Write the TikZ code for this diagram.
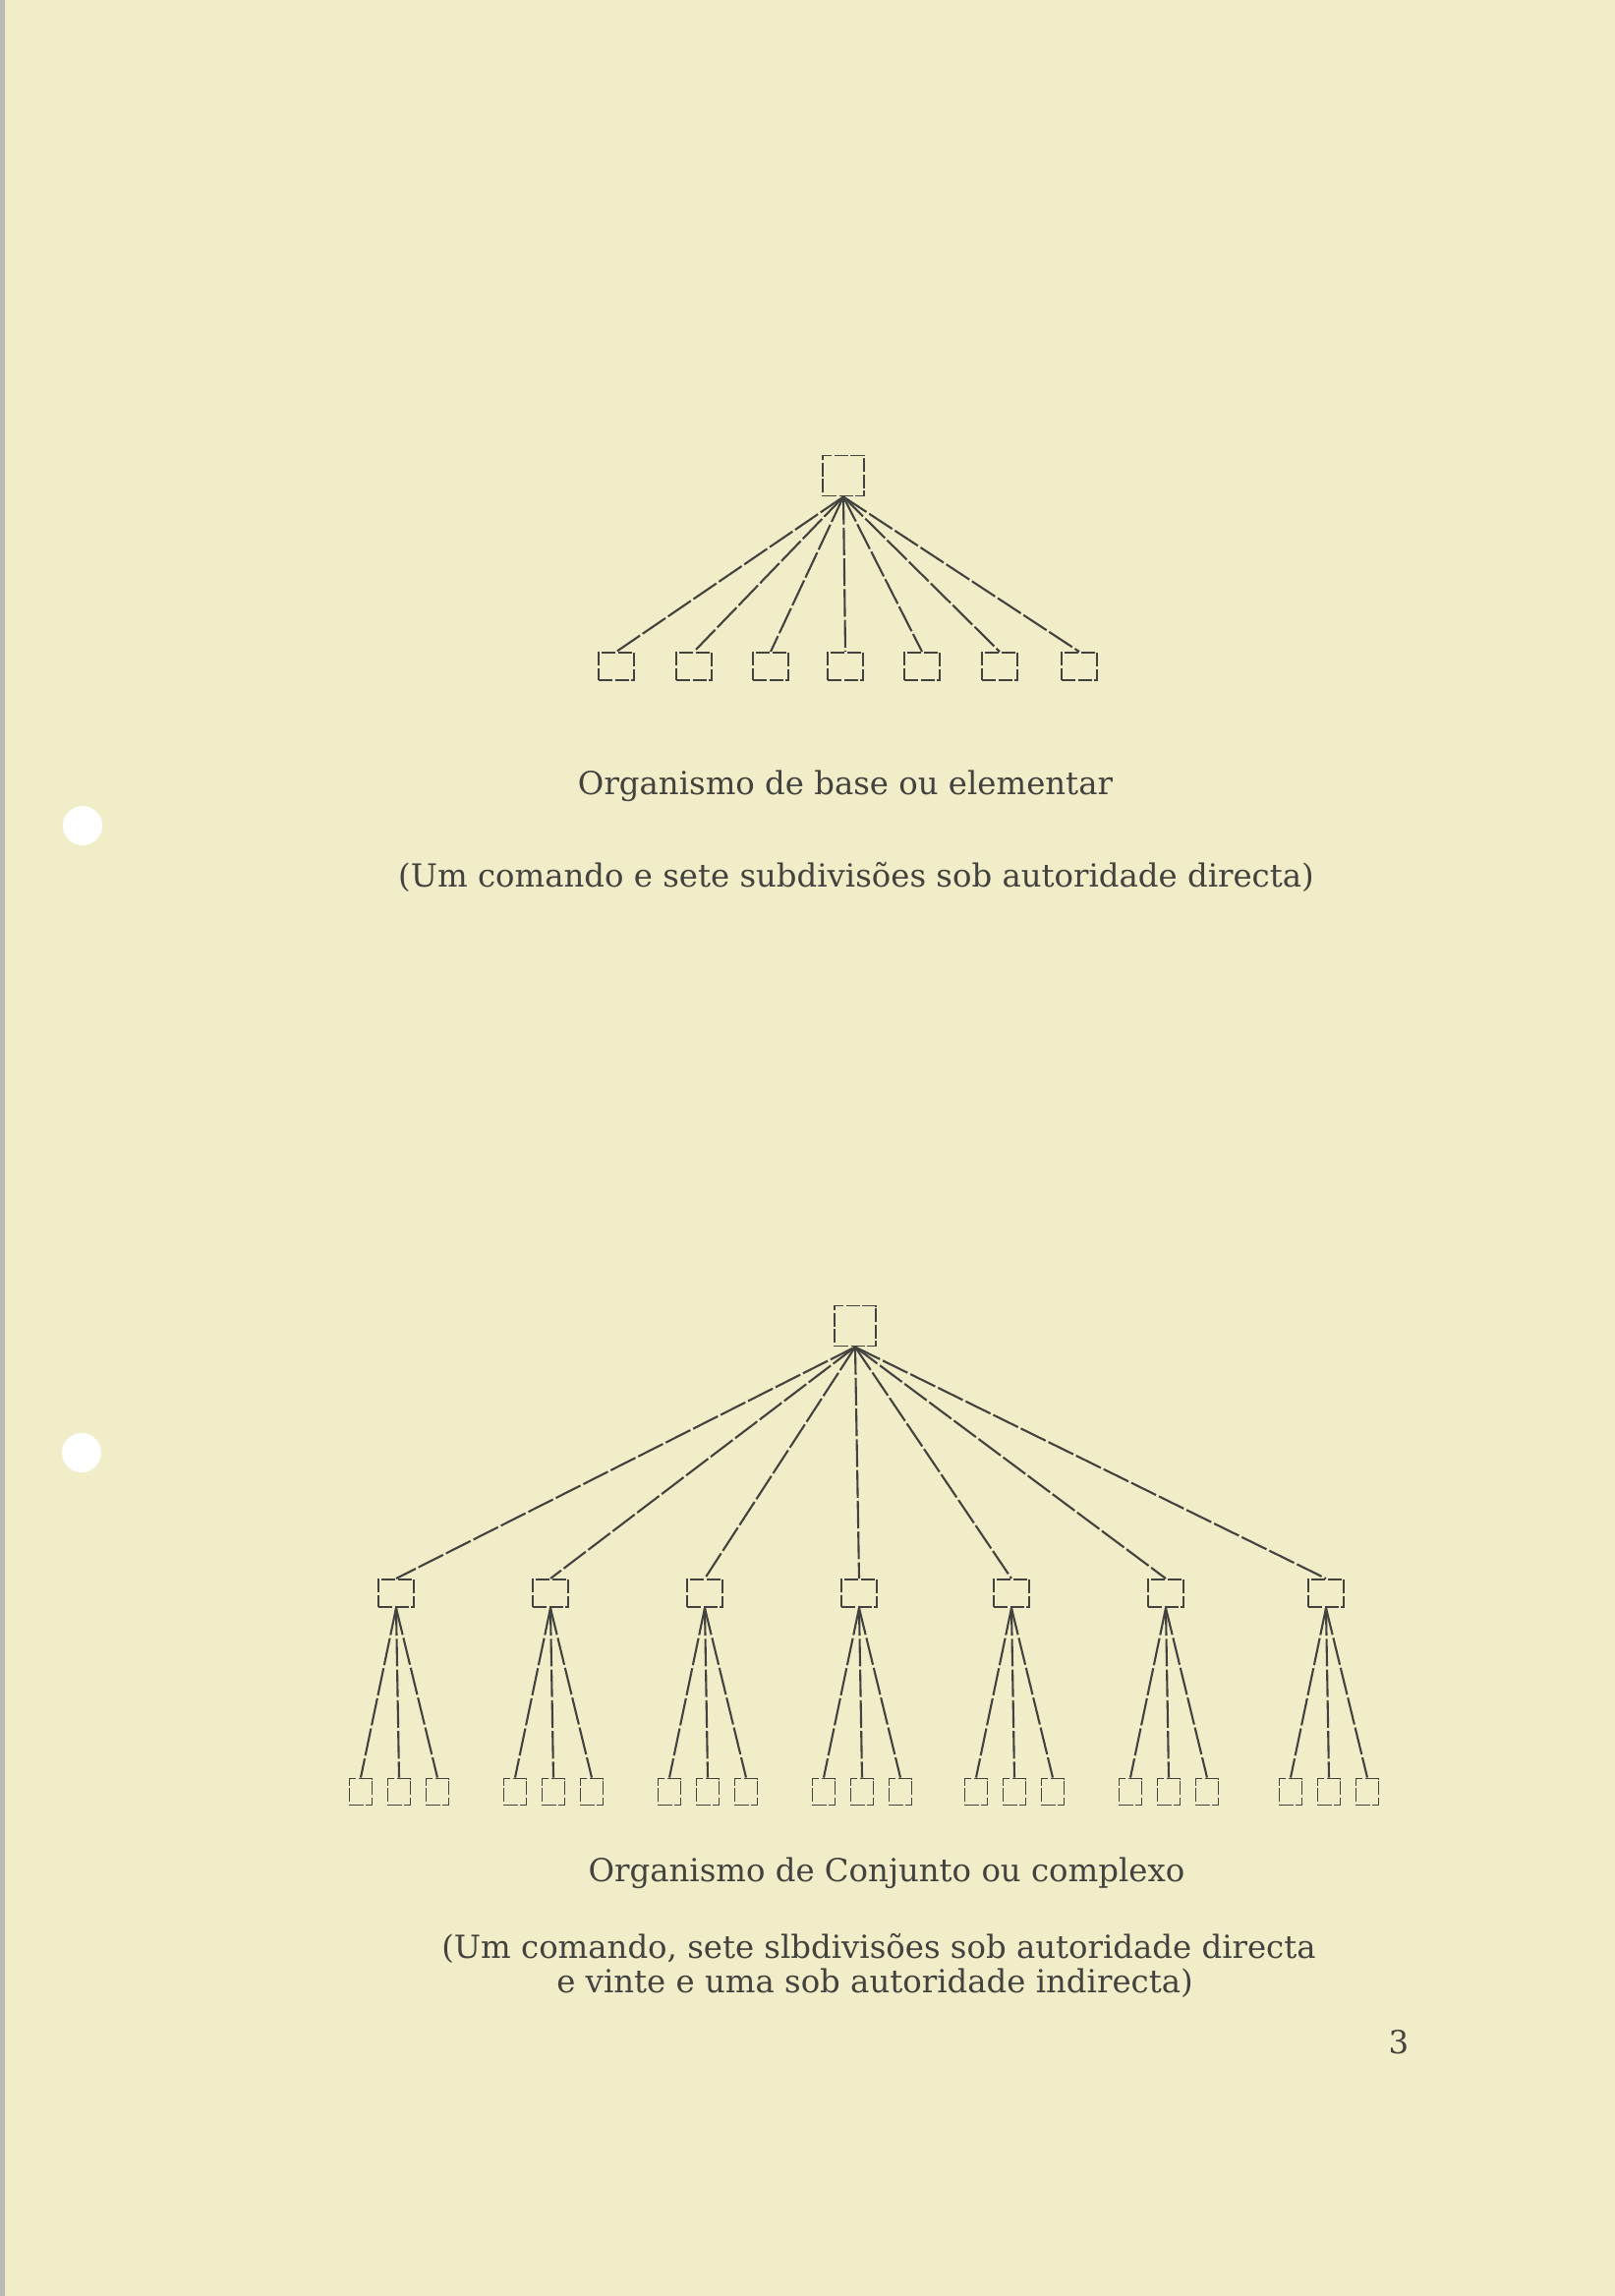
\documentclass[tikz,border=0pt]{standalone}
\usepackage{fontspec}
\setmainfont{DejaVu Serif}
\definecolor{papel}{RGB}{242,237,201}
\definecolor{tinta}{RGB}{66,66,62}
\tikzset{
  >=latex,
}
\tikzstyle{caixa}=[draw=tinta,line width=0.55pt,dash pattern=on 4pt off 0.7pt,inner sep=0pt]
\tikzstyle{comando}=[caixa,minimum width=0.42cm,minimum height=0.41cm]
\tikzstyle{subdiv}=[caixa,minimum width=0.36cm,minimum height=0.28cm]
\tikzstyle{subsub}=[caixa,minimum width=0.23cm,minimum height=0.27cm]
\tikzstyle{ligacao}=[draw=tinta,line width=0.6pt,dash pattern=on 8pt off 0.9pt]
\tikzstyle{every node}=[font=\fontsize{9.2}{11}\selectfont,text=tinta]

\begin{document}
\begin{tikzpicture}[x=0.01cm,y=-0.01cm]
    \useasboundingbox (0,0) rectangle (1643,2336);
    \fill[papel] (0,0) rectangle (1643,2336);
    \fill[gray!55] (0,0) rectangle (5,2336);
    % furos
    \fill[white] (84,840) circle (20);
    \fill[white] (83,1478) circle (20);
    % organismo elementar
    \node[comando] (c1) at (858,484) {};
    \foreach \x [count=\i] in {627,706,784,860,938,1017,1098}
      \node[subdiv] (s\i) at (\x,678) {};
    \foreach \i in {1,...,7} \draw[ligacao] (c1.south)--(s\i.north);
    \node[anchor=base] (t1) at (860,808) {Organismo de base ou elementar};
    \node[anchor=base] (t2) at (871,902) {(Um comando e sete subdivisões sob autoridade directa)};
    % organismo complexo
    \node[comando] (c2) at (870,1349) {};
    \foreach \x [count=\i] in {403,560,717,874,1029,1186,1349}{
      \node[subdiv] (m\i) at (\x,1621) {};
      \draw[ligacao] (c2.south)--(m\i.north);
      \foreach \dx [count=\j] in {-36,3,42}{
        \node[subsub] (n\i\j) at (\x+\dx,1823) {};
        \draw[ligacao] (m\i.south)--(n\i\j.north);
      }
    }
    \node[anchor=base] (t3) at (902,1914) {Organismo de Conjunto ou complexo};
    \node[anchor=base] (t4) at (894,1992) {(Um comando, sete slbdivisões sob autoridade directa};
    \node[anchor=base] (t5) at (890,2027) {e vinte e uma sob autoridade indirecta)};
    \node (pag) at (1423,2078) {3};
  \end{tikzpicture}
\end{document}
